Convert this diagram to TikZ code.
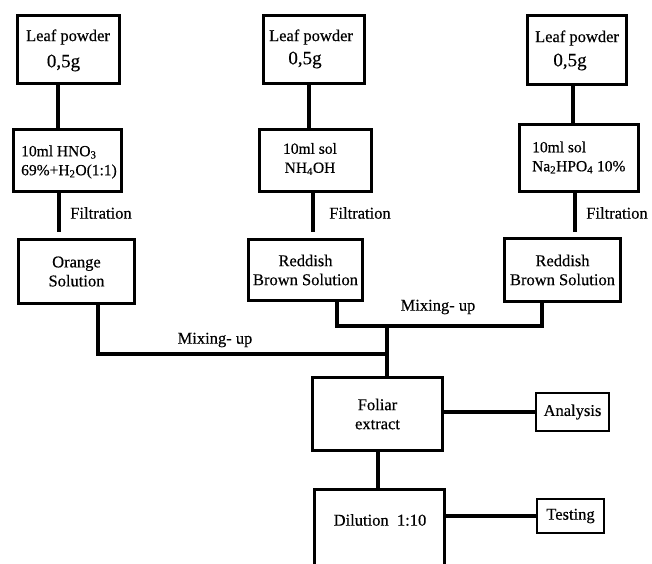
\documentclass[tikz,border=0pt]{standalone}
\usepackage{fontspec}
\setmainfont{Liberation Serif}[FakeBold=0.4]
\usetikzlibrary{calc}
\begin{document}
\begin{tikzpicture}[x=1pt,y=-1pt,
  box/.style={draw,line width=3pt,inner sep=0pt,align=center,
    font=\fontsize{16.5}{19}\selectfont},
  smallbox/.style={box,line width=2.6pt},
  wire/.style={line width=3.4pt},
  txt/.style={font=\fontsize{16.5}{19}\selectfont,inner sep=0pt,align=center},
  chem/.style={font=\fontsize{15.5}{19}\selectfont,inner sep=0pt},
  big/.style={font=\fontsize{19}{22}\selectfont,inner sep=0pt}]
\useasboundingbox (0,0) rectangle (652,563);
\clip (0,0) rectangle (652,563);
% top boxes
\node[box,minimum width=102pt,minimum height=68pt] (L1) at (68.5,49.5) {};
\node[box,minimum width=101pt,minimum height=68pt] (L2) at (314,49.5) {};
\node[box,minimum width=99pt,minimum height=69pt] (L3) at (577,50) {};
\node[txt] (tl1) at (68,37) {Leaf powder};
\node[big] (tg1) at (63.5,63) {0,5g};
\node[txt] (tl2) at (311,37) {Leaf powder};
\node[big] (tg2) at (305,60) {0,5g};
\node[txt] (tl3) at (577,38) {Leaf powder};
\node[big] (tg3) at (570,62) {0,5g};
% solvent boxes
\node[box,minimum width=108pt,minimum height=62pt] (S1) at (67.5,160.5) {};
\node[box,minimum width=112pt,minimum height=62pt] (S2) at (315.5,160.5) {};
\node[box,minimum width=119pt,minimum height=67pt] (S3) at (579,158) {};
\node[chem,align=left,anchor=west] (ts1) at (21,162) {10ml HNO\textsubscript{3}\\69\%+H\textsubscript{2}O(1:1)};
\node[chem,align=center] (ts2) at (310,159) {10ml sol\\NH\textsubscript{4}OH};
\node[chem,align=left,anchor=west] (ts3) at (532,157.5) {10ml sol\\Na\textsubscript{2}HPO\textsubscript{4} 10\%};
% solutions
\node[box,minimum width=116pt,minimum height=64pt] (O1) at (76.5,271.5) {Orange\\Solution};
\node[box,minimum width=114pt,minimum height=61pt] (R2) at (305.5,270) {Reddish\\Brown Solution};
\node[box,minimum width=116pt,minimum height=63pt] (R3) at (562.5,270) {Reddish\\Brown Solution};
% lower boxes
\node[box,minimum width=130pt,minimum height=73pt] (F) at (377.5,414) {Foliar\\extract};
\node[smallbox,minimum width=73pt,minimum height=38pt] (A) at (572.5,412) {Analysis};
\node[box,minimum width=130pt,minimum height=85pt] (D) at (379.5,532) {};
\node[txt] (td) at (380,520) {Dilution\ \ 1:10};
\node[smallbox,minimum width=67pt,minimum height=34pt] (T) at (570.5,516) {Testing};
% labels
\node[txt] (f1) at (101,213) {Filtration};
\node[txt] (f2) at (360,213) {Filtration};
\node[txt] (f3) at (617,213) {Filtration};
\node[txt] (m1) at (215,340) {Mixing- up};
\node[txt] (m2) at (438,307) {Mixing- up};
% connector coordinates
\coordinate (c1) at (58,0);
\coordinate (c2) at (309,0);
\coordinate (c3) at (573,0);
\coordinate (g1) at (59,232);
\coordinate (g2) at (313,232);
\coordinate (g3) at (575,232);
\coordinate (j1) at (98,354);
\coordinate (j2) at (387,354);
\coordinate (j3) at (337,326);
\coordinate (j4) at (542,326);
\coordinate (j5) at (387,326);
\coordinate (cf) at (378,0);
% connectors
\draw[wire] (L1.south -| c1) -- (S1.north -| c1);
\draw[wire] (L2.south -| c2) -- (S2.north -| c2);
\draw[wire] (L3.south -| c3) -- (S3.north -| c3);
\draw[wire] (S1.south -| g1) -- (g1);
\draw[wire] (S2.south -| g2) -- (g2);
\draw[wire] (S3.south -| g3) -- (g3);
\draw[wire] (O1.south -| j1) -- (j1) -- (j2);
\draw[wire] (R2.south -| j3) -- (j3) -- (j4) -- (R3.south -| j4);
\draw[wire] (j5) -- (F.north -| j5);
\draw[wire] (F.east |- A.west) -- (A.west);
\draw[wire] (F.south -| cf) -- (D.north -| cf);
\draw[wire] (D.east |- T.west) -- (T.west);
\end{tikzpicture}
\end{document}
